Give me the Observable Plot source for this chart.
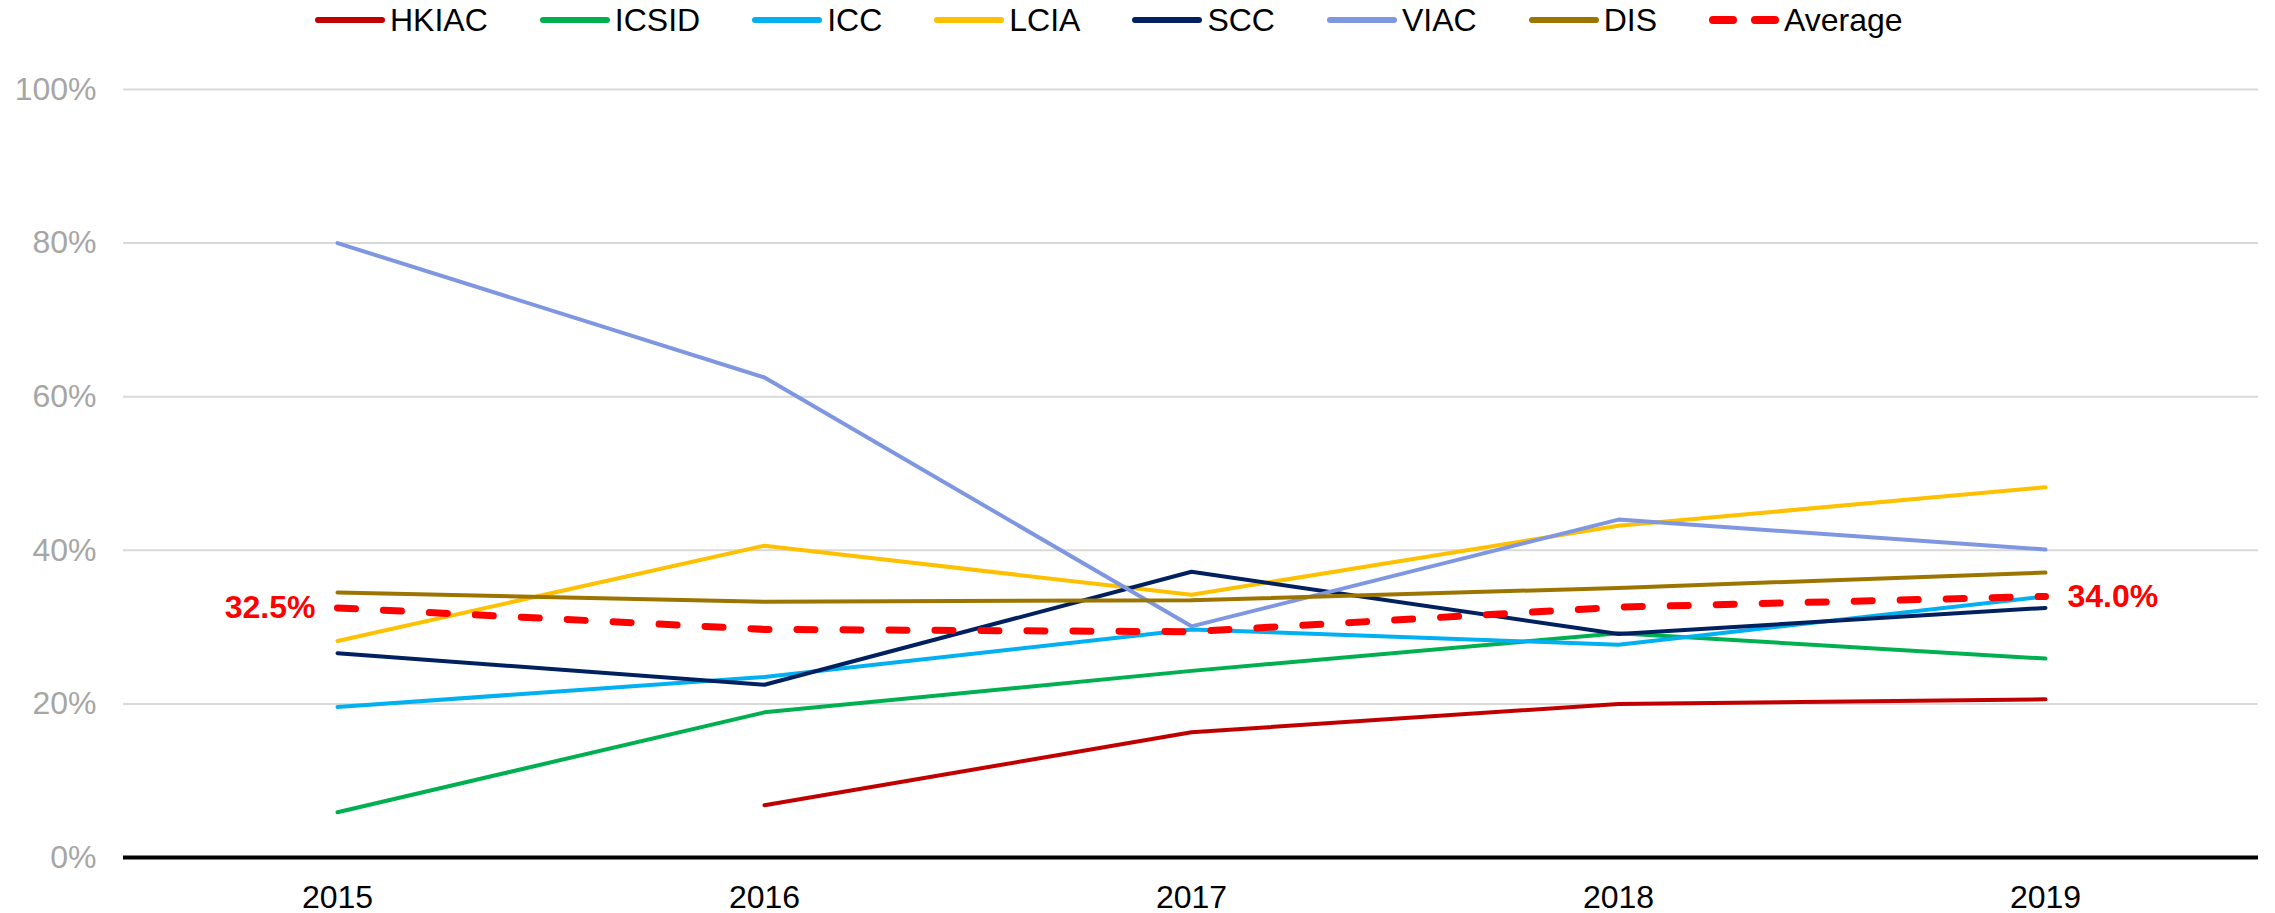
<!DOCTYPE html>
<html>
<head>
<meta charset="utf-8">
<script src="https://cdn.jsdelivr.net/npm/d3@7"></script>
<script src="https://cdn.jsdelivr.net/npm/@observablehq/plot@0.6"></script>
<style>
  body { margin: 0; background: #fff; font-family: "Liberation Sans", Arial, sans-serif; }
  #legend { position: relative; height: 40px; width: 2275px; display: flex; align-items: center; padding-left: 315px; box-sizing: border-box; gap: 52px; font-size: 32px; color: #000; }
  .item { display: flex; align-items: center; gap: 5px; }
  .sw { width: 70px; height: 6px; border-radius: 3px; }
</style>
</head>
<body>
<div id="legend"></div>
<div id="chart"></div>
<script>
const years = ["2015", "2016", "2017", "2018", "2019"];
const seriesNames = ["HKIAC", "ICSID", "ICC", "LCIA", "SCC", "VIAC", "DIS", "Average"];
const seriesColors = ["#C00000", "#00B050", "#00B0F0", "#FFC000", "#002060", "#7F96E0", "#9C7500", "#FF0000"];
const HKIAC = [null, 0.068, 0.163, 0.200, 0.206];
const ICSID = [0.059, 0.189, 0.243, 0.292, 0.259];
const ICC = [0.196, 0.235, 0.297, 0.277, 0.340];
const LCIA = [0.282, 0.406, 0.342, 0.432, 0.482];
const SCC = [0.266, 0.225, 0.372, 0.291, 0.325];
const VIAC = [0.800, 0.625, 0.301, 0.440, 0.401];
const DIS = [0.345, 0.333, 0.335, 0.351, 0.371];
const Average = [0.325, 0.297, 0.294, 0.326, 0.340];
const yTicks = [0, 0.2, 0.4, 0.6, 0.8, 1.0];

const seriesValues = { HKIAC, ICSID, ICC, LCIA, SCC, VIAC, DIS };
const solid = [];
for (const name of Object.keys(seriesValues)) {
  seriesValues[name].forEach((v, i) => solid.push({ series: name, year: years[i], value: v }));
}
const avg = Average.map((v, i) => ({ series: "Average", year: years[i], value: v }));
const avgFirst = [avg[0]];
const avgLast = [avg[avg.length - 1]];

// legend
const legend = document.getElementById("legend");
seriesNames.forEach((name, i) => {
  const item = document.createElement("div");
  item.className = "item";
  let sw;
  if (name === "Average") {
    sw = document.createElement("div");
    sw.style.cssText = "width:70px;height:8px;display:flex;gap:14px;";
    for (let k = 0; k < 2; k++) {
      const d = document.createElement("div");
      d.style.cssText = `flex:1;height:8px;border-radius:4px;background:${seriesColors[i]}`;
      sw.appendChild(d);
    }
  } else {
    sw = document.createElement("div");
    sw.className = "sw";
    sw.style.background = seriesColors[i];
  }
  const t = document.createElement("span");
  t.textContent = name;
  item.appendChild(sw);
  item.appendChild(t);
  legend.appendChild(item);
});

const fmt = d3.format(".1%");
const chart = Plot.plot({
  width: 2275,
  height: 873,
  marginTop: 49,
  marginBottom: 56,
  marginLeft: 123,
  marginRight: 17,
  style: { fontSize: "32px", fontFamily: "'Liberation Sans', Arial, sans-serif", background: "#fff", overflow: "visible" },
  x: { type: "point", domain: years, padding: 0.5 },
  y: { domain: [0, 1] },
  color: { domain: seriesNames, range: seriesColors },
  marks: [
    Plot.gridY(yTicks, { stroke: "#d9d9d9", strokeOpacity: 1, strokeWidth: 2 }),
    Plot.axisY(yTicks, { tickSize: 0, tickPadding: 27, tickFormat: d3.format(".0%"), color: "#a6a6a6", label: null }),
    Plot.axisX({ tickSize: 0, tickPadding: 28, color: "#000", label: null }),
    Plot.ruleY([0], { stroke: "#000", strokeWidth: 4 }),
    Plot.line(solid, { x: "year", y: "value", z: "series", stroke: "series", strokeWidth: 4, strokeLinejoin: "round" }),
    Plot.line(avg, { x: "year", y: "value", stroke: "series", strokeWidth: 7, strokeDasharray: "18,28", strokeLinecap: "round" }),
    Plot.text(avgFirst, { x: "year", y: "value", text: d => fmt(d.value), fill: "#FF0000", fontWeight: "bold", fontSize: 32, textAnchor: "end", dx: -22 }),
    Plot.text(avgLast, { x: "year", y: "value", text: d => fmt(d.value), fill: "#FF0000", fontWeight: "bold", fontSize: 32, textAnchor: "start", dx: 22 })
  ]
});
document.getElementById("chart").appendChild(chart);
</script>
</body>
</html>
